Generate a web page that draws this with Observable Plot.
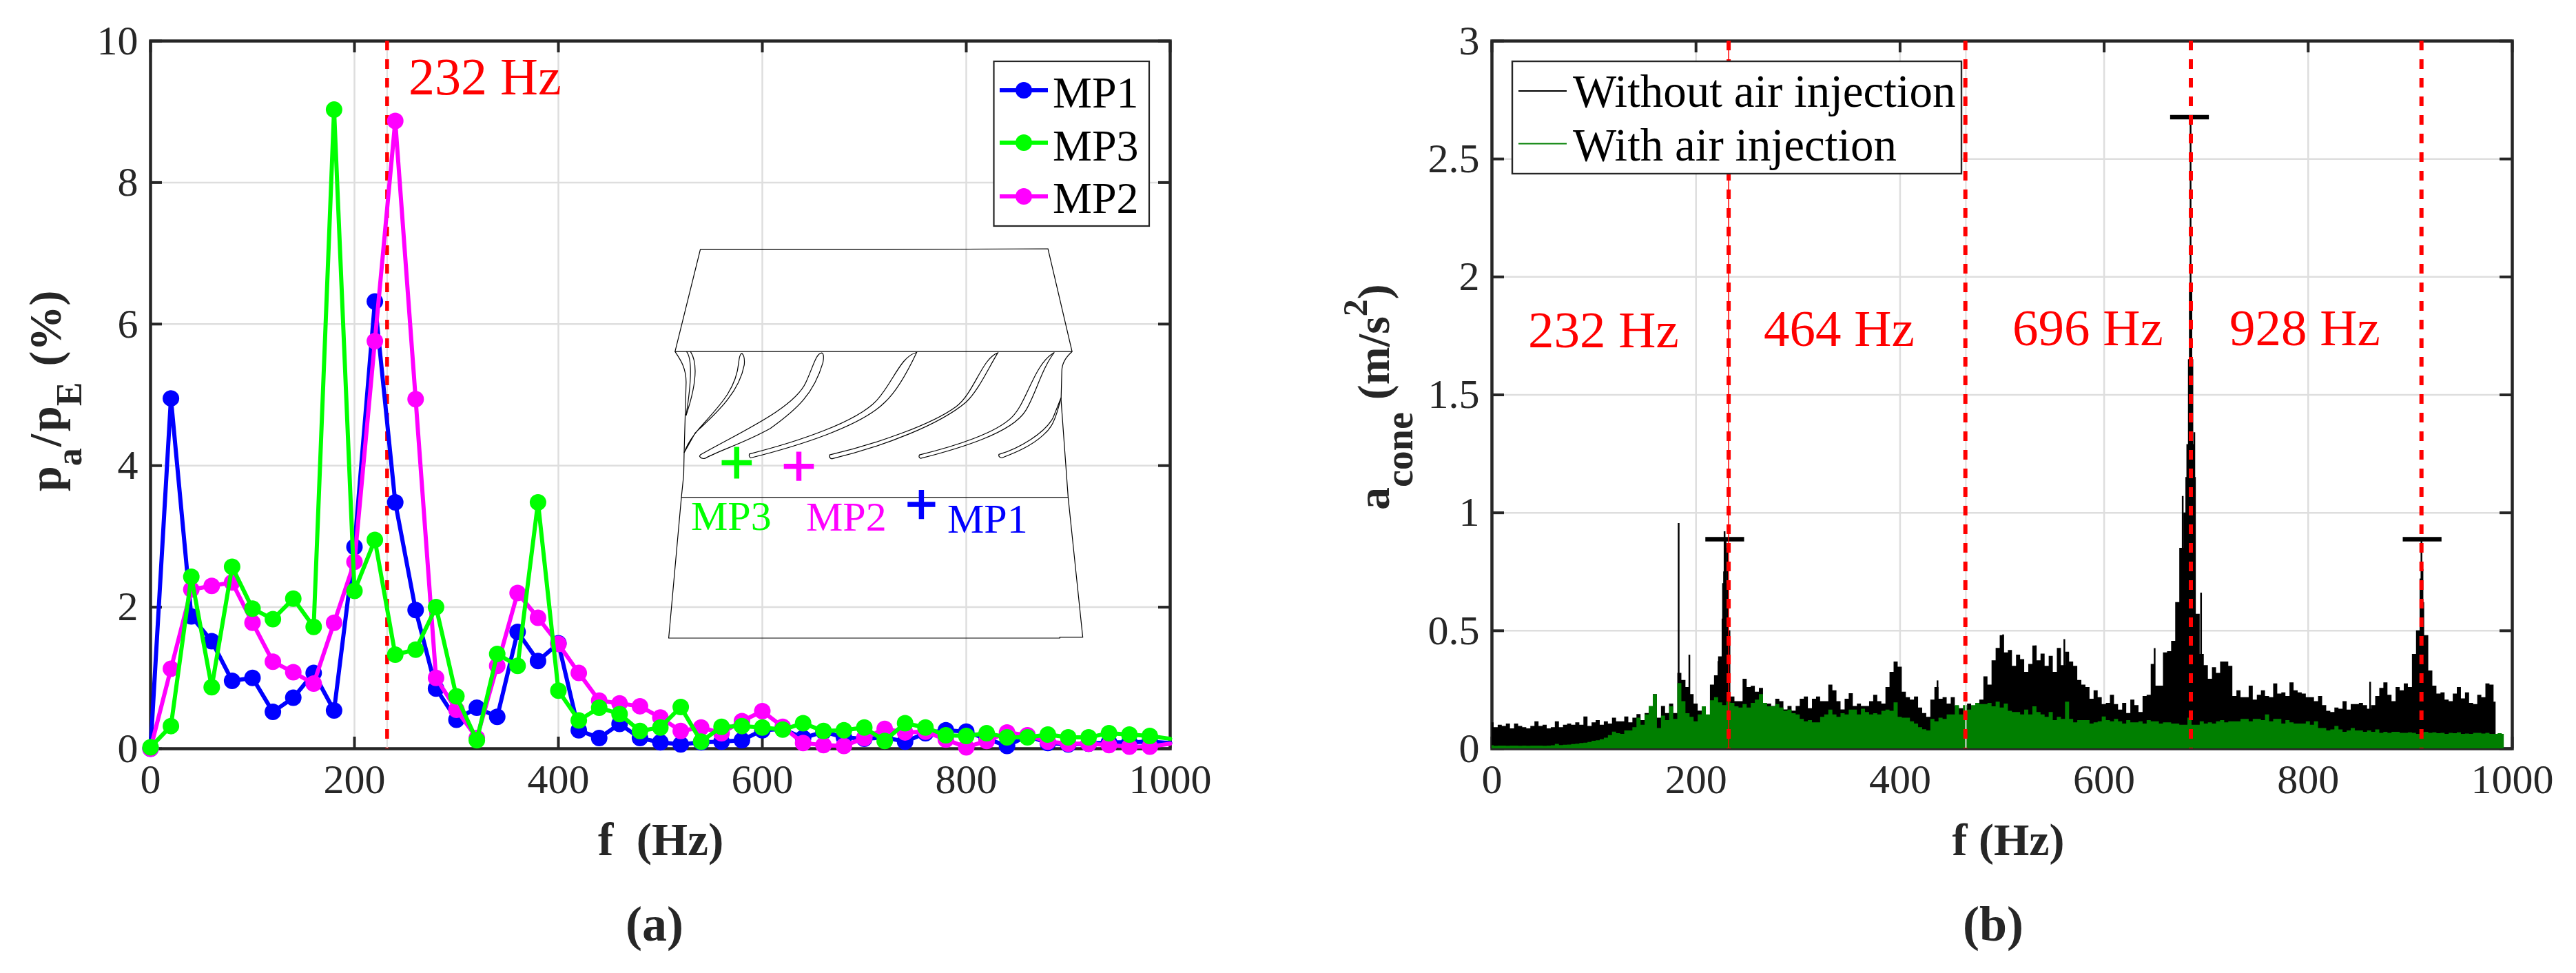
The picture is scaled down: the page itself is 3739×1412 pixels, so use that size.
<!DOCTYPE html>
<html>
<head>
<meta charset="utf-8">
<script src="https://cdn.jsdelivr.net/npm/d3@7"></script>
<script src="https://cdn.jsdelivr.net/npm/@observablehq/plot@0.6"></script>
<style>
html,body{margin:0;padding:0;background:#fff;}
#wrap{display:flex;width:3739px;height:1412px;}
svg{display:block;}
</style>
</head>
<body>
<div id="wrap"></div>
<script>
// ---- panel (a): pressure amplitude, one value every 20 Hz from 0 to 1000 Hz
const mp1 = [0,4.95,1.87,1.52,.96,1.0,.52,.72,1.07,.54,2.85,6.32,3.48,1.96,.85,.41,.58,.45,1.65,1.24,1.49,.26,.15,.35,.15,.09,.06,
  .09,.10,.12,.26,.28,.15,.24,.16,.14,.16,.10,.22,.26,.24,.14,.04,.18,.08,.06,.07,.09,.09,.10,.08];
const mp3 = [.02,.32,2.43,.87,2.57,1.98,1.83,2.12,1.72,9.03,2.23,2.95,1.33,1.40,2.0,.74,.12,1.34,1.17,3.48,.82,.40,.58,.49,.25,.30,.59,
  .10,.31,.32,.30,.27,.36,.25,.26,.30,.11,.36,.30,.19,.18,.22,.16,.16,.20,.16,.16,.22,.20,.18,.14];
const mp2 = [0,1.13,2.25,2.30,2.35,1.78,1.23,1.08,.92,1.78,2.64,5.76,8.87,4.94,1.0,.55,.15,1.17,2.20,1.85,1.48,1.07,.68,.64,.60,.44,.25,
  .30,.22,.39,.53,.31,.08,.05,.04,.15,.28,.23,.24,.13,.02,.11,.23,.19,.10,.07,.07,.05,.03,.03,.07];
const seriesA = [["MP1",mp1,"#0000ff"],["MP2",mp2,"#ff00ff"],["MP3",mp3,"#00ff00"]];
const xTicks = [0,200,400,600,800,1000];
const yTicksA = [0,2,4,6,8,10];
const yTicksB = [0,.5,1,1.5,2,2.5,3];

// ---- panel (b): upper envelope of each spectrum, one reading every 4 Hz
const withoutAir = [
 .11,.09,.10,.095,.105,.085,.105,.095,.09,.085,.095,.115,.095,.10,.085,.09,.115,.09,.10,.105,.10,.11,.10,.135,.095,
 .11,.12,.10,.115,.105,.13,.115,.115,.135,.11,.13,.145,.12,.15,.16,.23,.13,.18,.15,.19,.15,.32,.29,.26,.23,
 .19,.16,.13,.14,.27,.31,.39,.70,.50,.22,.20,.20,.295,.26,.265,.24,.256,.19,.19,.18,.21,.20,.165,.18,.16,
 .18,.21,.22,.17,.21,.22,.20,.20,.27,.246,.20,.165,.21,.234,.18,.19,.18,.18,.20,.227,.20,.19,.26,.324,.368,
 .346,.24,.217,.207,.22,.173,.15,.134,.207,.26,.21,.217,.19,.217,.18,.17,.17,.19,.18,.19,.207,.305,.27,.373,.426,
 .48,.407,.417,.35,.397,.378,.324,.358,.436,.373,.402,.35,.392,.324,.426,.353,.41,.368,.35,.29,.27,.26,.21,.246,.217,
 .188,.193,.227,.188,.164,.193,.15,.207,.183,.154,.222,.227,.358,.266,.266,.407,.412,.456,.62,.85,1.0,1.1,1.0,.57,.40,
 .353,.295,.344,.32,.368,.368,.35,.222,.246,.217,.217,.266,.207,.227,.246,.222,.217,.275,.232,.237,.222,.28,.246,.237,.232,
 .217,.217,.2,.222,.183,.159,.154,.173,.168,.2,.164,.188,.188,.193,.183,.168,.183,.222,.256,.28,.227,.2,.26,.246,.275,
 .26,.40,.5,.62,.48,.33,.266,.232,.237,.207,.2,.232,.26,.212,.237,.193,.188,.227,.217,.275,.27,.198];
const withAir = [
 .013,.011,.012,.012,.011,.012,.012,.011,.012,.011,.012,.012,.012,.011,.012,.013,.019,.014,.015,.016,.018,.02,.023,.024,.027,
 .032,.034,.039,.045,.056,.071,.064,.061,.076,.076,.09,.13,.10,.144,.18,.229,.086,.139,.12,.178,.125,.277,.2,.149,.134,
 .115,.144,.178,.144,.204,.217,.195,.183,.198,.193,.178,.173,.188,.173,.193,.207,.23,.193,.178,.178,.188,.173,.159,.164,.149,
 .144,.125,.115,.12,.11,.11,.134,.144,.164,.144,.134,.149,.144,.164,.164,.144,.168,.154,.144,.149,.144,.159,.164,.159,.195,
 .134,.13,.13,.115,.105,.09,.081,.076,.125,.115,.13,.125,.144,.144,.183,.144,.183,.164,.183,.193,.188,.188,.193,.178,.198,
 .173,.19,.159,.154,.154,.144,.164,.144,.178,.154,.144,.134,.154,.12,.134,.125,.198,.125,.11,.12,.12,.12,.105,.11,.115,
 .135,.12,.115,.125,.115,.105,.12,.11,.11,.115,.105,.12,.115,.115,.105,.11,.11,.105,.105,.10,.10,.13,.10,.10,.115,
 .105,.11,.105,.115,.12,.11,.115,.115,.115,.125,.125,.115,.125,.125,.12,.144,.115,.125,.125,.105,.12,.11,.105,.105,.105,
 .115,.10,.115,.086,.086,.076,.08,.095,.08,.07,.076,.086,.076,.076,.07,.076,.07,.08,.066,.07,.066,.07,.07,.066,.066,
 .068,.066,.061,.068,.07,.066,.068,.064,.066,.061,.066,.064,.068,.061,.063,.061,.066,.066,.063,.066,.061,.061,.064,.061];
// narrow spikes that rise above the envelope
const spikeF = [183,193.5,222,226,227.5,228,229,230.7,231,436.7,501,533,561,649.5,677,680.5,681.5,683,684,684.7,685.5,686.5,687.5,688.4,689,695,860.7,910,911,912];
const spikeA = [.955,.397,.37,.55,.75,.92,.88,.85,.7,.288,.483,.436,.463,.425,1.07,1.15,1.29,1.65,1.95,2.66,1.95,1.65,1.29,1.34,1.15,.66,.282,.72,.888,.76];
// horizontal peak markers
const peakF = [228.5,684,912];
const peakA = [.888,2.677,.888];
const harmonicLines = [232,464,685,911];

// ---- shared look
const serif = "Liberation Serif";
const ink = "#262626";
const gridC = "#dedede";
const red = "#ff0000";
const T = 59, B = 1086, H = B - T;

function boxMarks(yTicks){
  const W = 1480, tl = 17;
  return [
    Plot.gridX(xTicks,{stroke:gridC,strokeOpacity:1,strokeWidth:2.5}),
    Plot.gridY(yTicks,{stroke:gridC,strokeOpacity:1,strokeWidth:2.5}),
    Plot.frame({stroke:ink,strokeWidth:4.5}),
    Plot.tickX(xTicks,{x:d=>d,stroke:ink,strokeWidth:4,insetTop:H-tl}),
    Plot.tickX(xTicks,{x:d=>d,stroke:ink,strokeWidth:4,insetBottom:H-tl}),
    Plot.tickY(yTicks,{y:d=>d,stroke:ink,strokeWidth:4,insetRight:W-tl}),
    Plot.tickY(yTicks,{y:d=>d,stroke:ink,strokeWidth:4,insetLeft:W-tl}),
    Plot.axisX(xTicks,{anchor:"bottom",tickSize:0,tickPadding:22,fontSize:60,fill:ink,label:null,tickFormat:d=>String(d)}),
    Plot.axisY(yTicks,{anchor:"left",tickSize:0,tickPadding:18,fontSize:60,fill:ink,label:null,tickFormat:d=>String(d)})
  ];
}

// ---- panel (a)
const hz20 = mp1.map((_,i)=>i*20);
const marksA = [...boxMarks(yTicksA),
  Plot.ruleX([232],{stroke:gridC,strokeWidth:2}),
  Plot.ruleX([232],{stroke:red,strokeWidth:5.5,strokeDasharray:"14,13"})];
for (const [name,vals,color] of seriesA){
  const rows = vals.map((v,i)=>({f:hz20[i],v,name}));
  marksA.push(Plot.line(rows,{x:"f",y:"v",stroke:color,strokeWidth:6}));
  marksA.push(Plot.dot(rows.filter(d=>d.f<1000),{x:"f",y:"v",r:12,fill:color,stroke:"none"}));
}
const left = Plot.plot({
  width:1870,height:1412,marginLeft:218,marginRight:172,marginTop:T,marginBottom:1412-B,
  style:{fontFamily:serif,background:"#fff"},
  x:{domain:[0,1000],axis:null},y:{domain:[0,10],axis:null},
  marks:marksA
});

// ---- panel (b)
const rowsBlack = withoutAir.map((a,i)=>({f:i*4,a}));
const rowsGreen = withAir.map((a,i)=>({f:i*4,a}));
const rowsSpike = spikeF.map((f,i)=>({f,a:spikeA[i]}));
const rowsPeak = peakF.map((f,i)=>({f,a:peakA[i]}));
const right = Plot.plot({
  width:1869,height:1412,marginLeft:295,marginRight:93,marginTop:T,marginBottom:1412-B,
  style:{fontFamily:serif,background:"#fff"},
  x:{domain:[0,1000],axis:null},y:{domain:[0,3],axis:null},
  marks:[...boxMarks(yTicksB),
    Plot.areaY(rowsBlack,{x:"f",y:"a",curve:"step",fill:"#000"}),
    Plot.ruleX(rowsSpike,{x:"f",y1:0,y2:"a",stroke:"#000",strokeWidth:2.5}),
    Plot.areaY(rowsGreen,{x:"f",y:"a",curve:"step",fill:"#007f00"}),
    Plot.ruleY(rowsPeak,{y:"a",x1:d=>d.f-19,x2:d=>d.f+19,stroke:"#000",strokeWidth:6.5}),
    Plot.ruleX([464.5],{stroke:gridC,strokeWidth:2}),
    Plot.ruleX([232],{stroke:red,strokeWidth:1.5}),
    Plot.ruleX(harmonicLines,{stroke:red,strokeWidth:6,strokeDasharray:"14,13"})
  ]
});
document.getElementById("wrap").append(left,right);

// ---- annotations, in page pixels
function layer(svg,dx){return d3.select(svg).append("g").attr("transform",`translate(${-dx},0)`).attr("font-family",serif).attr("text-anchor","start").style("text-anchor","start");}
function label(g,x,y,s,size,fill,extra={}){
  const t=g.append("text").attr("x",x).attr("y",y).attr("font-size",size).attr("fill",fill).text(s);
  t.style("text-anchor",extra["text-anchor"]||"start");
  for(const k in extra)t.attr(k,extra[k]);
  return t;
}
const gA = layer(left,0), gB = layer(right,1870);

// bottom captions and x titles
label(gA,868,1241,"f  (Hz)",67,ink,{"font-weight":"bold",style:"white-space:pre;text-anchor:start"});
label(gA,950,1365,"(a)",72,ink,{"font-weight":"bold","text-anchor":"middle"});
label(gB,2915,1241,"f (Hz)",66,ink,{"font-weight":"bold","text-anchor":"middle"});
label(gB,2893,1365,"(b)",72,ink,{"font-weight":"bold","text-anchor":"middle"});

// y titles with sub/superscripts
function rotated(g,x,y,parts,size){
  const t=g.append("text").attr("transform",`translate(${x},${y}) rotate(-90)`)
    .attr("font-size",size).attr("font-weight","bold").attr("fill",ink)
    .style("white-space","pre").style("text-anchor","start");
  for(const p of parts){
    const s=t.append("tspan").text(p.s);
    if(p.size)s.attr("font-size",p.size);
    if(p.dy)s.attr("dy",p.dy);
    if(p.dx)s.attr("dx",p.dx);
  }
}
rotated(gA,88,713,[{s:"p"},{s:"a",size:52,dy:30},{s:"/",dy:-30,dx:2},{s:"p",dx:4},{s:"E",size:52,dy:30},{s:"(%)",dy:-30,dx:23}],66);
rotated(gB,2016,740,[{s:"a"},{s:"cone",size:56,dy:34},{s:"(m/s",dy:-34,dx:18},{s:"2",size:50,dy:-32},{s:")",dy:32}],66);

// red annotations
label(gA,593,137,"232 Hz",76,red);
label(gB,2218,504,"232 Hz",75,red);
label(gB,2560,502,"464 Hz",75,red);
label(gB,2921,501,"696 Hz",75,red);
label(gB,3236,501,"928 Hz",75,red);

// legend (a)
gA.append("rect").attr("x",1442.5).attr("y",89).attr("width",225.5).attr("height",239).attr("fill","#fff").attr("stroke",ink).attr("stroke-width",2.2);
[["MP1","#0000ff",131,156],["MP3","#00ff00",207,233],["MP2","#ff00ff",285,309]].forEach(([s,c,ly,by])=>{
  gA.append("line").attr("x1",1451).attr("x2",1521).attr("y1",ly).attr("y2",ly).attr("stroke",c).attr("stroke-width",6);
  gA.append("circle").attr("cx",1486).attr("cy",ly).attr("r",12).attr("fill",c);
  label(gA,1528,by,s,64,"#000");
});
// legend (b)
gB.append("rect").attr("x",2195).attr("y",89).attr("width",652).attr("height",163).attr("fill","#fff").attr("stroke",ink).attr("stroke-width",2.4);
[["Without air injection","#000",132,155],["With air injection","#007f00",208.5,233]].forEach(([s,c,ly,by])=>{
  gB.append("line").attr("x1",2204).attr("x2",2274).attr("y1",ly).attr("y2",ly).attr("stroke",c).attr("stroke-width",2);
  label(gB,2283,by,s,67,"#000");
});

// inset runner sketch (outline traced in crop units, then mapped to pixels)
const P = (x,y)=>`${(x/1.742+900).toFixed(1)},${(y/1.568).toFixed(1)}`;
function trace(str){return str.replace(/(-?[\d.]+),(-?[\d.]+)/g,(m,a,b)=>P(+a,+b));}
const outlines = [
 "M139,800 L203,568 L672,568 L1082,566 L1143,800 Z",
 "M139,800 C150,815 167,835 167,870 L162,1030 L161,1080 L155,1132 L123,1452 L1112,1452 L1112,1450 L1170,1450 L1133,1132 L1115,910 L1117,845 C1117,825 1130,810 1143,800",
 "M155,1132 L1133,1132",
 "M168,800 C182,815 182,860 167,945",
 "M178,800 C196,825 195,870 167,945",
 "M162,1030 C190,960 290,920 300,825 Q302,805 308,804 Q316,810 314,830 C300,900 230,950 190,985 L162,1030 Z",
 "M203,1035 C300,985 440,930 470,870 C490,830 495,805 510,803 Q517,805 513,825 C490,895 450,930 380,975 C310,1010 250,1025 215,1043 Q205,1045 201,1038 Z",
 "M327,1033 C450,1005 600,960 650,910 C690,870 710,810 750,802 C730,840 700,890 670,915 C610,970 450,1015 330,1042 Q325,1040 327,1033 Z",
 "M530,1035 C650,1010 790,965 850,925 C895,895 915,815 955,803 C930,840 905,890 875,915 C810,965 670,1015 535,1044 Q528,1042 530,1035 Z",
 "M757,1035 C850,1015 950,985 990,950 C1030,915 1045,830 1098,802 C1065,840 1050,900 1025,935 C990,985 860,1020 760,1043 Q754,1041 757,1035 Z",
 "M958,1034 C1010,1020 1075,985 1095,950 L1115,905 C1100,960 1090,975 1070,990 C1040,1015 1000,1030 965,1042 Q956,1040 958,1034 Z"
];
outlines.forEach(d=>gA.append("path").attr("d",trace(d)).attr("fill","none").attr("stroke","#000").attr("stroke-width",1.2));
[["#00ff00",295,1053,38,36],["#ff00ff",452,1061,38,33],["#0000ff",762,1148,35,33]].forEach(([c,x,y,w,h])=>{
  gA.append("path").attr("d",trace(`M${x-w},${y} L${x+w},${y} M${x},${y-h} L${x},${y+h}`)).attr("fill","none").attr("stroke",c).attr("stroke-width",7.5);
});
label(gA,1003,768.5,"MP3",60,"#00ff00");
label(gA,1170,770,"MP2",60,"#ff00ff");
label(gA,1375,773,"MP1",60,"#0000ff");
</script>
</body>
</html>
